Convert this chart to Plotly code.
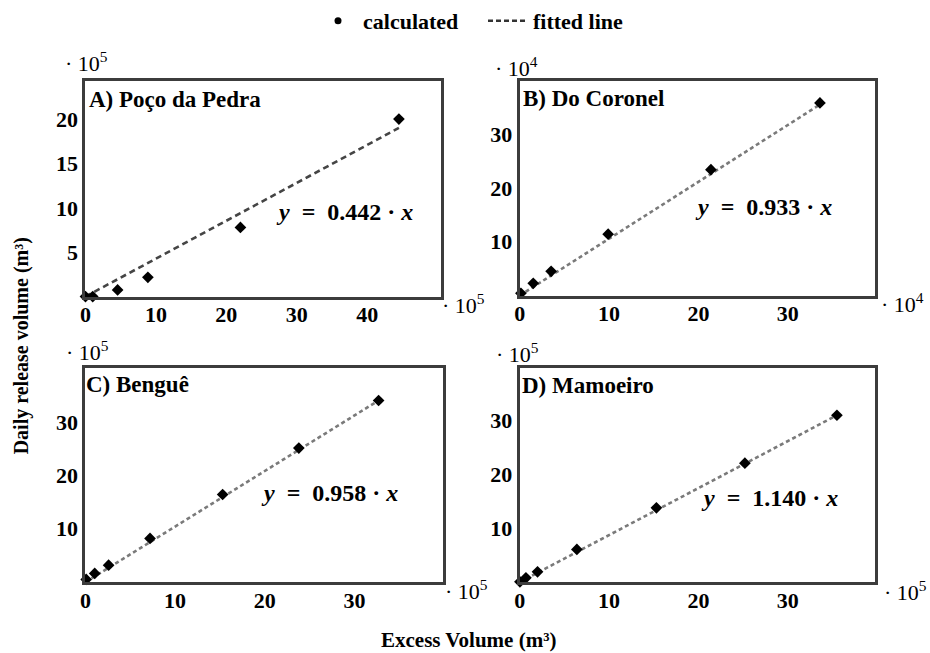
import plotly.graph_objects as go

# ---------------- data ----------------
panels = ["A) Poço da Pedra", "B) Do Coronel", "C) Benguê", "D) Mamoeiro"]
equations = ["0.442", "0.933", "0.958", "1.140"]
x_mult = ["5", "4", "5", "5"]
y_mult = ["5", "4", "5", "5"]

x_A = [0.0, 1.03, 4.56, 8.86, 22.0, 44.5]
y_A = [0.0, 0.0, 0.75, 2.17, 7.79, 20.0]
fit_x_A = [0.0, 44.5]
fit_y_A = [0.0, 19.0]

x_B = [0.14, 1.52, 3.52, 9.9, 21.4, 33.6]
y_B = [0.43, 2.28, 4.5, 11.4, 23.4, 35.8]
fit_x_B = [0.0, 33.6]
fit_y_B = [0.0, 35.5]

x_C = [0.08, 1.03, 2.58, 7.2, 15.3, 23.8, 32.7]
y_C = [0.50, 1.63, 3.18, 8.17, 16.4, 25.1, 34.0]
fit_x_C = [0.0, 32.7]
fit_y_C = [0.0, 34.0]

x_D = [0.03, 0.7, 2.0, 6.4, 15.3, 25.2, 35.5]
y_D = [0.06, 0.80, 1.91, 6.07, 13.8, 22.1, 31.0]
fit_x_D = [0.0, 35.5]
fit_y_D = [0.0, 31.0]

xticks_A = [0, 10, 20, 30, 40]
yticks_A = [5, 10, 15, 20]
xticks_BCD = [0, 10, 20, 30]
yticks_BCD = [10, 20, 30]

# ---------------- layout helpers ----------------
W, H = 930, 653
def px(x):
    return x / W
def py(y):
    return 1 - y / H

FONT = "Liberation Serif"
NB = "\u00a0"

# pixel boxes of each panel: (left, right, top, bottom)
boxes = [(80, 438, 80, 296), (517, 875, 80, 295), (80, 440, 368, 582), (517, 875, 368, 582)]
xranges = [[0, 50.5], [0, 39.8], [0, 39.9], [0, 39.8]]
yranges = [[0, 24.3], [0, 39.9], [0, 40.0], [0, 39.7]]
xtick_sets = [xticks_A, xticks_BCD, xticks_BCD, xticks_BCD]
ytick_sets = [yticks_A, yticks_BCD, yticks_BCD, yticks_BCD]
pts = [(x_A, y_A), (x_B, y_B), (x_C, y_C), (x_D, y_D)]
fits = [(fit_x_A, fit_y_A), (fit_x_B, fit_y_B), (fit_x_C, fit_y_C), (fit_x_D, fit_y_D)]
dash_styles = ["6px,4px", "4px,3px", "4px,3px", "4px,3px"]
dash_colors = ["#454545", "#7a7a7a", "#7a7a7a", "#7a7a7a"]

fig = go.Figure()

for i in range(4):
    xa = "x" if i == 0 else f"x{i+1}"
    ya = "y" if i == 0 else f"y{i+1}"
    fx, fy = fits[i]
    fig.add_trace(go.Scatter(
        x=fx, y=fy, mode="lines", xaxis=xa, yaxis=ya,
        line=dict(color=dash_colors[i], width=2.6, dash=dash_styles[i]),
        name="fitted line", showlegend=False, cliponaxis=False,
    ))
    px_, py_ = pts[i]
    fig.add_trace(go.Scatter(
        x=px_, y=py_, mode="markers", xaxis=xa, yaxis=ya,
        marker=dict(symbol="diamond", size=9, color="black"),
        name="calculated", showlegend=False, cliponaxis=False,
    ))

# legend entries
fig.add_trace(go.Scatter(x=[None], y=[None], mode="markers",
                         marker=dict(symbol="circle", size=7, color="black"),
                         name="calculated", showlegend=True))
fig.add_trace(go.Scatter(x=[None], y=[None], mode="lines",
                         line=dict(color="#333333", width=2.6, dash="5px,3px"),
                         name="fitted line", showlegend=True))

layout = dict(
    width=W, height=H,
    margin=dict(l=0, r=0, t=0, b=0),
    paper_bgcolor="white", plot_bgcolor="white",
    showlegend=True,
    legend=dict(orientation="h", x=px(309), xanchor="left", y=py(20), yanchor="middle",
                font=dict(family=FONT, size=22, color="black", weight="bold"),
                bgcolor="rgba(0,0,0,0)", itemwidth=40, traceorder="normal",
                entrywidth=115, entrywidthmode="pixels"),
)

for i in range(4):
    l, r, t, b = boxes[i]
    xk = "xaxis" if i == 0 else f"xaxis{i+1}"
    yk = "yaxis" if i == 0 else f"yaxis{i+1}"
    xa = "x" if i == 0 else f"x{i+1}"
    ya = "y" if i == 0 else f"y{i+1}"
    axis_common = dict(
        showline=True, mirror=True, linecolor="#3c3c3c", linewidth=3,
        showgrid=False, zeroline=False, ticks="",
        tickfont=dict(family=FONT, size=22, color="black", weight="bold"),
    )
    layout[xk] = dict(domain=[px(l), px(r)], range=xranges[i], anchor=ya,
                      tickmode="array", tickvals=xtick_sets[i], ticklabelstandoff=-4,
                      ticktext=[str(v) for v in xtick_sets[i]], **axis_common)
    layout[yk] = dict(domain=[py(b), py(t)], range=yranges[i], anchor=xa,
                      tickmode="array", tickvals=ytick_sets[i],
                      ticktext=[str(v) for v in ytick_sets[i]], **axis_common)

fig.update_layout(**layout)

ann = []
title_pos = [(82, 99), (518, 98), (79, 384), (517, 385)]
eq_pos = [(270, 211), (691, 206), (255, 493), (697, 498)]
top_mult_pos = [(57, 61), (490, 66), (58, 351), (491, 353)]
right_mult_pos = [(437, 303), (879, 302), (440, 590), (882, 591)]

for i in range(4):
    ann.append(dict(text=f"<b>{panels[i]}</b>", x=px(title_pos[i][0]), y=py(title_pos[i][1]),
                    xref="paper", yref="paper", xanchor="left", yanchor="middle", showarrow=False,
                    font=dict(family=FONT, size=23, color="black")))
    eq = f"<i>y</i>{NB}{NB}={NB}{NB}{equations[i]}{NB}·{NB}<i>x</i>"
    ann.append(dict(text=f"<b>{eq}</b>",
                    x=px(eq_pos[i][0]), y=py(eq_pos[i][1]),
                    xref="paper", yref="paper", xanchor="left", yanchor="middle", showarrow=False,
                    font=dict(family=FONT, size=24, color="black")))
    ann.append(dict(text=f"· 10<sup>{y_mult[i]}</sup>", x=px(top_mult_pos[i][0]), y=py(top_mult_pos[i][1]),
                    xref="paper", yref="paper", xanchor="left", yanchor="middle", showarrow=False,
                    font=dict(family=FONT, size=22, color="black")))
    ann.append(dict(text=f"· 10<sup>{x_mult[i]}</sup>", x=px(right_mult_pos[i][0]), y=py(right_mult_pos[i][1]),
                    xref="paper", yref="paper", xanchor="left", yanchor="middle", showarrow=False,
                    font=dict(family=FONT, size=22, color="black")))

ann.append(dict(text="<b>Daily release volume (m³)</b>", x=px(16), y=py(345), textangle=-90,
                xref="paper", yref="paper", xanchor="center", yanchor="middle", showarrow=False,
                font=dict(family=FONT, size=20, color="black")))
ann.append(dict(text="<b>Excess Volume (m³)</b>", x=px(465), y=py(640),
                xref="paper", yref="paper", xanchor="center", yanchor="middle", showarrow=False,
                font=dict(family=FONT, size=21, color="black")))

fig.update_layout(annotations=ann)
fig.write_html("out.html", config={"displayModeBar": False},
               post_script="document.body.style.margin='0';document.body.style.overflow='hidden';")
